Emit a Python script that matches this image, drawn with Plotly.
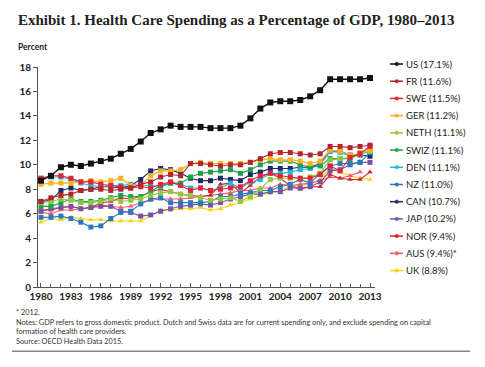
import plotly.graph_objects as go

years = list(range(1980, 2014))

us   = [8.7, 9.1, 9.8, 10.0, 9.9, 10.1, 10.3, 10.5, 10.9, 11.3, 11.9, 12.6, 12.9, 13.2, 13.1, 13.1, 13.1, 13.0, 13.0, 13.0, 13.2, 13.8, 14.6, 15.1, 15.2, 15.2, 15.3, 15.6, 16.1, 17.0, 17.0, 17.0, 17.0, 17.1]
fr   = [7.0, 7.3, 7.5, 7.6, 7.9, 8.0, 8.0, 7.9, 8.0, 8.1, 8.4, 8.6, 9.0, 9.2, 9.1, 10.1, 10.1, 10.0, 9.9, 10.0, 10.0, 10.2, 10.5, 10.9, 11.0, 11.0, 10.9, 10.8, 10.9, 11.5, 11.5, 11.4, 11.5, 11.6]
swe  = [8.9, 9.1, 9.1, 8.9, 8.6, 8.6, 8.4, 8.3, 8.2, 8.1, 8.2, 8.1, 8.4, 8.6, 8.3, 7.9, 8.1, 7.9, 8.0, 8.1, 8.2, 8.7, 9.1, 9.3, 9.1, 9.0, 8.9, 8.9, 9.2, 9.9, 9.5, 10.6, 10.9, 11.5]
ger  = [8.4, 8.5, 8.5, 8.5, 8.6, 8.7, 8.6, 8.7, 8.9, 8.3, 8.3, 9.1, 9.5, 9.5, 9.6, 10.1, 10.2, 10.1, 10.1, 10.1, 10.1, 10.2, 10.4, 10.5, 10.4, 10.4, 10.3, 10.1, 10.3, 11.2, 11.1, 10.8, 10.9, 11.2]
neth = [6.9, 7.0, 7.2, 7.1, 6.9, 6.9, 7.0, 7.2, 7.0, 7.1, 7.2, 7.5, 7.7, 7.8, 7.6, 7.5, 7.3, 7.1, 7.2, 7.3, 7.0, 7.4, 8.0, 8.8, 8.9, 8.9, 8.9, 9.0, 9.3, 10.4, 10.5, 10.6, 11.0, 11.1]
swiz = [6.6, 6.6, 6.9, 7.2, 7.0, 7.0, 7.1, 7.3, 7.5, 7.4, 7.4, 7.8, 8.3, 8.5, 8.5, 9.0, 9.3, 9.4, 9.5, 9.6, 9.3, 9.6, 10.0, 10.3, 10.3, 10.3, 10.0, 9.8, 9.9, 10.5, 10.5, 10.5, 10.9, 11.1]
den  = [8.9, 9.0, 9.0, 8.8, 8.5, 8.3, 8.2, 8.3, 8.3, 8.4, 8.3, 8.3, 8.2, 8.5, 8.4, 8.1, 8.1, 7.9, 8.1, 8.5, 8.1, 8.6, 8.8, 9.3, 9.3, 9.4, 9.6, 9.7, 10.0, 11.1, 11.0, 10.7, 10.9, 11.1]
nz   = [5.7, 5.7, 5.8, 5.6, 5.3, 4.9, 5.0, 5.6, 6.1, 6.2, 6.8, 7.2, 7.3, 6.9, 6.9, 6.9, 6.9, 7.0, 7.4, 7.4, 7.6, 7.7, 7.9, 7.9, 8.2, 8.4, 8.8, 8.5, 9.3, 9.9, 10.1, 10.1, 10.2, 11.0]
can  = [7.0, 7.1, 7.9, 8.1, 7.9, 8.0, 8.2, 8.2, 8.1, 8.3, 8.8, 9.5, 9.7, 9.6, 9.3, 8.9, 8.7, 8.7, 8.9, 8.8, 8.7, 9.2, 9.4, 9.7, 9.7, 9.7, 9.8, 9.8, 10.1, 11.1, 11.1, 10.8, 10.8, 10.7]
jap  = [6.2, 6.4, 6.5, 6.6, 6.4, 6.5, 6.6, 6.6, 6.2, 6.1, 5.8, 5.9, 6.2, 6.4, 6.6, 6.7, 6.8, 6.7, 6.9, 7.2, 7.4, 7.6, 7.6, 7.8, 7.8, 8.1, 8.1, 8.2, 8.6, 9.5, 9.6, 10.0, 10.2, 10.2]
nor  = [6.3, 6.3, 6.5, 6.6, 6.4, 6.5, 6.9, 7.0, 7.3, 7.2, 7.4, 7.8, 8.0, 7.8, 7.6, 7.5, 7.4, 7.5, 8.4, 8.5, 7.7, 8.3, 9.0, 9.3, 8.9, 8.3, 8.0, 8.2, 8.2, 9.2, 8.9, 8.8, 8.8, 9.4]
aus  = [6.1, 6.0, 6.3, 6.3, 6.4, 6.5, 6.7, 6.6, 6.5, 6.6, 6.9, 7.1, 7.2, 7.2, 7.2, 7.3, 7.4, 7.5, 7.6, 7.7, 7.9, 7.9, 8.1, 8.1, 8.4, 8.3, 8.4, 8.5, 8.7, 9.0, 8.9, 9.1, 9.4, None]
uk   = [5.3, 5.6, 5.5, 5.7, 5.6, 5.5, 5.5, 5.4, 5.4, 5.4, 5.4, 5.8, 6.3, 6.3, 6.4, 6.4, 6.5, 6.3, 6.4, 6.7, 6.9, 7.2, 7.5, 7.7, 7.9, 8.2, 8.3, 8.4, 8.8, 9.7, 9.4, 9.1, 8.9, 8.8]

names = ["US (17.1%)", "FR (11.6%)", "SWE (11.5%)", "GER (11.2%)", "NETH (11.1%)",
         "SWIZ (11.1%)", "DEN (11.1%)", "NZ (11.0%)", "CAN (10.7%)", "JAP (10.2%)",
         "NOR (9.4%)", "AUS (9.4%)*", "UK (8.8%)"]
series = [us, fr, swe, ger, neth, swiz, den, nz, can, jap, nor, aus, uk]
colors = ["#111111", "#b5252b", "#e0243a", "#f7b21c", "#93c83e", "#1da24a", "#27b5e4",
          "#2b78c0", "#1c2a68", "#7b52a3", "#d9232a", "#f15a6b", "#f6d20a"]
symbols = ["square"] * 10 + ["triangle-up"] * 3

# page offset of the plot div (body margin)
OFF = 8
W, H = 485 - OFF, 367 - OFF
PL = 38 - OFF
PT = 67 - OFF
plot_right = 375 - OFF
plot_bottom = 287.5 - OFF
PR = W - plot_right
PB = H - plot_bottom
pw = plot_right - PL
ph = plot_bottom - PT

def px(x):   # page pixel -> paper x
    return (x - OFF - PL) / pw

def py(y):   # page pixel -> paper y
    return (plot_bottom - (y - OFF)) / ph

fig = go.Figure()
for i in reversed(range(len(series))):
    fig.add_trace(go.Scatter(
        x=years, y=series[i], name=names[i], mode="lines+markers",
        line=dict(color=colors[i], width=1.4 if i == 0 else 1.1),
        marker=dict(symbol=symbols[i], size=6 if i == 0 else 5, color=colors[i]),
        connectgaps=False, showlegend=False,
    ))

fig.update_layout(
    width=W, height=H,
    margin=dict(l=PL, r=PR, t=PT, b=PB),
    paper_bgcolor="white", plot_bgcolor="white",
    font=dict(family="Lato", color="#222222"),
    xaxis=dict(range=[1979.7, 2013.5], tickmode="linear", tick0=1980, dtick=3,
               showline=True, linecolor="#555555", linewidth=1,
               ticks="inside", ticklen=4, tickcolor="#555555",
               minor=dict(dtick=1, ticks="inside", ticklen=3, tickcolor="#555555"),
               showgrid=False, zeroline=False,
               tickfont=dict(family="Lato", size=10, color="#222222", weight="bold")),
    yaxis=dict(range=[0, 18], tickmode="linear", tick0=0, dtick=2,
               showline=True, linecolor="#555555", linewidth=1,
               ticks="outside", ticklen=4, tickcolor="#555555",
               showgrid=False, zeroline=False,
               tickfont=dict(family="Lato", size=10, color="#222222", weight="bold")),
)

ann = []
shapes = []
ann.append(dict(text="<b>Exhibit 1. Health Care Spending as a Percentage of GDP, 1980–2013</b>",
                x=px(16), y=py(20), xref="paper", yref="paper", xanchor="left", yanchor="middle",
                showarrow=False, font=dict(family="Liberation Serif", size=15, color="#222222")))
ann.append(dict(text="<b>Percent</b>", x=px(16), y=py(47), xref="paper", yref="paper",
                xanchor="left", yanchor="middle", showarrow=False,
                font=dict(family="Lato", size=8.5, color="#222222")))

# legend (drawn as key)
for k, (nm, c) in enumerate(zip(names, colors)):
    yy = 64 + 17.25 * k
    shapes.append(dict(type="line", xref="paper", yref="paper",
                       x0=px(390), x1=px(403), y0=py(yy), y1=py(yy),
                       line=dict(color=c, width=1.5)))
    shapes.append(dict(type="circle", xref="paper", yref="paper",
                       x0=px(395), x1=px(398.5), y0=py(yy + 1.75), y1=py(yy - 1.75),
                       line=dict(color=c, width=0.5), fillcolor=c))
    ann.append(dict(text=nm, x=px(404), y=py(yy), xref="paper", yref="paper",
                    xanchor="left", yanchor="middle", showarrow=False,
                    font=dict(family="Lato", size=9.5, color="#222222")))

notes = [
    (313, "* 2012."),
    (323, "Notes: GDP refers to gross domestic product. Dutch and Swiss data are for current spending only, and exclude spending on capital"),
    (332.5, "formation of health care providers."),
    (342, "Source: OECD Health Data 2015."),
]
for yy, t in notes:
    ann.append(dict(text=t, x=px(14), y=py(yy), xref="paper", yref="paper",
                    xanchor="left", yanchor="middle", showarrow=False,
                    font=dict(family="Lato", size=7.3, color="#333333")))
shapes.append(dict(type="line", xref="paper", yref="paper",
                   x0=px(12), x1=px(470), y0=py(352), y1=py(352),
                   line=dict(color="#888888", width=1.5)))
fig.update_layout(annotations=ann, shapes=shapes)

fig.write_html("out.html")
